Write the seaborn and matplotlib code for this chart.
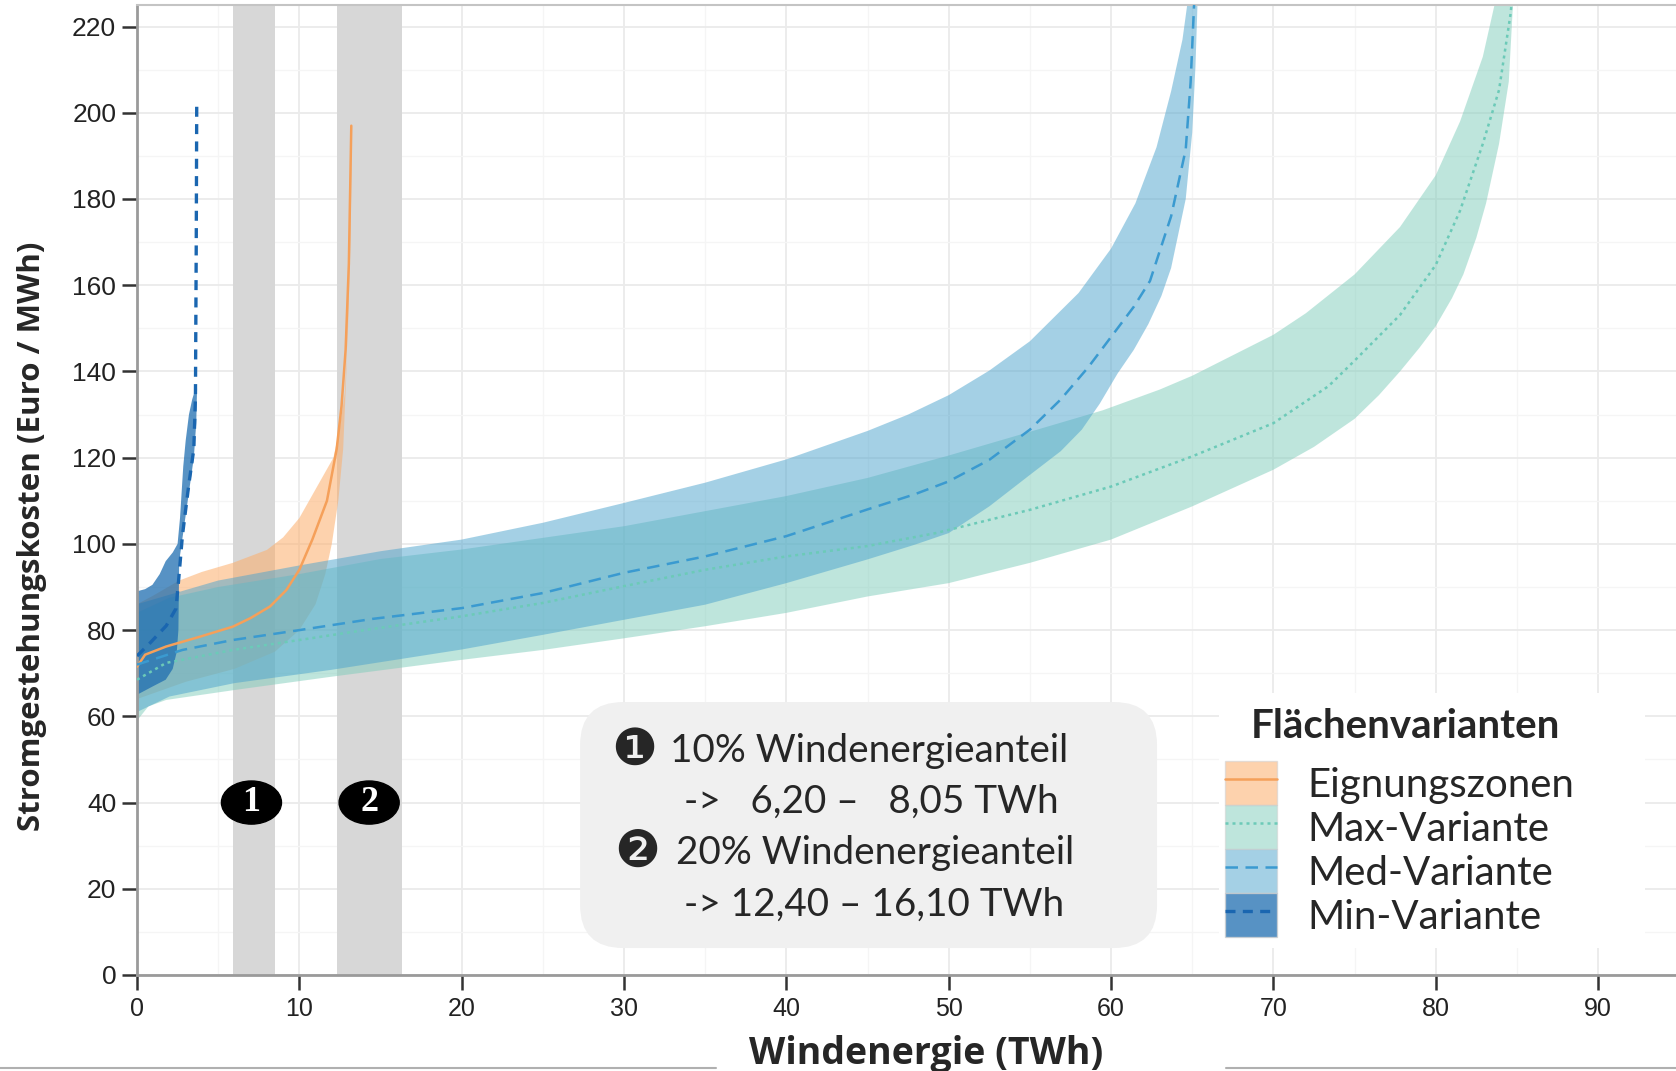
import numpy as np
import matplotlib
matplotlib.use("Agg")
import matplotlib.pyplot as plt
import seaborn as sns
from matplotlib.patches import Patch, Ellipse, FancyBboxPatch, Rectangle
from matplotlib.lines import Line2D

# --- data ------------------------------------------------------------------
# Eignungszonen (orange)
ez_up_x = [0, 1, 2.6, 4, 5.9, 8, 9, 10, 11.2, 12.1, 12.5, 12.8, 13.0, 13.15, 13.25]
ez_up_y = [86, 88, 91.5, 93.5, 95.6, 98.6, 101.5, 106, 114, 120, 127, 135, 150, 170, 197]
ez_lo_x = [0, 3, 6, 8.5, 10, 11, 11.6, 12.0, 12.4, 12.7, 12.9, 13.05, 13.25]
ez_lo_y = [64, 68, 71, 75, 80, 86, 93, 100, 110, 122, 140, 165, 197]
ez_mid_x = [0, 0.5, 1.8, 3.9, 5.9, 7.0, 8.2, 9.2, 10.0, 10.8, 11.7, 12.3, 12.6, 12.85, 13.05, 13.2]
ez_mid_y = [71.5, 74.3, 76.2, 78.5, 80.8, 82.8, 85.5, 89.3, 94, 101, 110, 122, 132, 145, 165, 197]

# Max-Variante (teal)
mx_up_x = [0, 2, 5, 10, 15, 20, 25, 30, 35, 40, 45, 50, 55, 59.5, 63, 65, 67, 70, 72, 75, 77.8, 80, 81.5, 82.9, 83.8]
mx_up_y = [84, 87.5, 90, 93, 96.5, 98.7, 101.4, 104.1, 107.6, 111.1, 115.3, 120.5, 126, 131, 135.8, 139, 142.8, 148.5, 153.5, 162.5, 173.5, 185.5, 198, 213, 228]
mx_lo_x = [0, 0.7, 1.8, 6, 12, 20, 25, 30, 35, 40, 45, 50, 55, 60, 65, 70, 72.5, 75, 76.5, 77.8, 79, 80, 81, 81.7, 82.5, 83.1, 83.9, 84.5, 84.8]
mx_lo_y = [59, 62.3, 63.8, 66.1, 69.2, 73.1, 75.4, 78.1, 80.9, 84, 87.8, 90.9, 95.6, 101, 108.7, 117.2, 122.5, 129, 134.5, 140, 145.5, 150.5, 157, 162.5, 171, 179, 192.8, 207.2, 228]
mx_mid_x = [0, 1.8, 5.9, 10, 14, 20, 25, 30, 35, 40, 45, 49.2, 55, 60, 65, 70, 73.4, 75, 77.8, 80, 81.5, 82.9, 83.9, 84.6, 84.75]
mx_mid_y = [68.5, 72.4, 75.4, 77.7, 80, 83.2, 86.3, 90.2, 94, 97.1, 99.5, 102.5, 107.9, 113.3, 120.3, 128, 136.6, 142.5, 153.1, 164.7, 177.3, 192.8, 205.3, 222.7, 228]

# Med-Variante (blue)
md_up_x = [0, 5, 10, 15, 20, 25, 30, 35, 40, 45, 47.5, 50, 52.5, 55, 58, 60, 61.5, 62.8, 63.7, 64.4, 64.8]
md_up_y = [86, 91.5, 95, 98.3, 101, 104.9, 109.5, 114.2, 119.6, 126.2, 130, 134.5, 140.2, 147, 158.2, 168.5, 179, 192, 205, 217, 228]
md_lo_x = [0, 2, 6, 12, 20, 25, 30, 35, 40, 45, 47.9, 50, 52.5, 55, 56.9, 58.2, 59.3, 60.4, 61.4, 62.3, 63.1, 63.7, 64.6, 65.0, 65.2, 65.35]
md_lo_y = [61, 64.6, 67.7, 70.8, 75.5, 78.9, 82.4, 85.9, 90.9, 96.4, 99.8, 102.5, 108.7, 116, 121.5, 126.5, 132.5, 139.5, 145, 151, 157.5, 164, 180, 195.4, 210.8, 228]
md_mid_x = [0, 2.8, 5.9, 10, 14.5, 20, 25, 30, 35, 40, 45, 47.9, 50, 52.5, 55, 56.9, 58.6, 60.2, 61.4, 62.4, 63.7, 64.6, 64.9, 65.15]
md_mid_y = [72, 75.4, 77.7, 80, 82.6, 85.1, 88.6, 93.3, 97.1, 101.8, 108, 111.5, 114.5, 119.5, 126.5, 133.5, 141, 149, 155, 161, 176, 191.5, 207, 228]

# Min-Variante (dark blue)
mn_up_x = [0, 0.5, 0.95, 1.4, 1.77, 2.2, 2.5, 2.65, 2.75, 2.85, 3.0, 3.2, 3.4, 3.6]
mn_up_y = [89, 89.5, 90.5, 93, 96, 98, 100, 106, 112, 118, 124, 130, 133.5, 136]
mn_lo_x = [0, 0.5, 1.0, 1.77, 2.2, 2.45, 2.55, 2.6, 2.9, 3.2, 3.5, 3.65, 3.7]
mn_lo_y = [65, 66, 67, 68.5, 71, 75, 80, 96, 104, 112, 120, 128, 136]
mn_mid_x = [0, 0.8, 1.8, 2.4, 2.55, 2.8, 3.2, 3.5, 3.6, 3.65, 3.68]
mn_mid_y = [74, 77, 81, 85, 91, 102, 114, 122, 134, 170, 203]

labels = ["Eignungszonen", "Max-Variante", "Med-Variante", "Min-Variante"]
shade_bands = [(5.9, 8.5), (12.3, 16.3)]
badge_x = [7.05, 14.3]
badge_text = ["1", "2"]
badge_y = 40

# --- styling ---------------------------------------------------------------
sns.set_theme(style="whitegrid")
plt.rcParams["font.family"] = ["Lato", "DejaVu Sans"]

fill_cols = ["#fdae6b", "#7fcdbb", "#4ba3cd", "#1f6eb0"]
fill_alpha = [0.55, 0.5, 0.5, 0.75]
line_cols = ["#f5a05a", "#6ccab8", "#3a9ad0", "#1a66b0"]
line_styles = ["-", (0, (1.2, 1.6)), (0, (5, 3)), (0, (3, 2.2))]
line_widths = [1.8, 1.8, 1.8, 2.4]

fig = plt.figure(figsize=(16.76, 10.71), dpi=100)
ax = fig.add_axes([137 / 1676, 96 / 1071, 1539 / 1676, 970 / 1071])
ax.set_facecolor("white")

# grey highlight bands
for lo, hi in shade_bands:
    ax.axvspan(lo, hi, color="#d7d7d7", lw=0, zorder=1)

bands = [(ez_up_x, ez_up_y, ez_lo_x, ez_lo_y),
         (mx_up_x, mx_up_y, mx_lo_x, mx_lo_y),
         (md_up_x, md_up_y, md_lo_x, md_lo_y),
         (mn_up_x, mn_up_y, mn_lo_x, mn_lo_y)]
for (ux, uy, lx, ly), c, a in zip(bands, fill_cols, fill_alpha):
    ax.fill(np.r_[ux, lx[::-1]], np.r_[uy, ly[::-1]], color=c, alpha=a, lw=0, zorder=2)

mids = [(ez_mid_x, ez_mid_y), (mx_mid_x, mx_mid_y), (md_mid_x, md_mid_y), (mn_mid_x, mn_mid_y)]
for (mxs, mys), c, ls, lw in zip(mids, line_cols, line_styles, line_widths):
    sns.lineplot(x=mxs, y=mys, ax=ax, color=c, linestyle=ls, lw=lw,
                 sort=False, estimator=None, zorder=3)

# numbered badges
for bx, t in zip(badge_x, badge_text):
    ax.add_patch(Ellipse((bx, badge_y), 3.7, 10, color="black", zorder=6))
    ax.text(bx, badge_y, t, color="white", ha="center", va="center", fontsize=26,
            fontweight="bold", family="Liberation Serif", zorder=7)

# axes, ticks, grid
ax.set_xlim(0, 94.8)
ax.set_ylim(0, 225)
ax.set_xticks(np.arange(0, 91, 10))
ax.set_yticks(np.arange(0, 221, 20))
ax.set_xticks(np.arange(5, 95, 10), minor=True)
ax.set_yticks(np.arange(10, 225, 20), minor=True)
ax.grid(which="major", color="#ebebeb", lw=1.3)
ax.grid(which="minor", color="#f5f5f5", lw=0.9)
ax.set_axisbelow(True)
ax.tick_params(axis="both", which="major", direction="out", length=11, width=1.8,
               color="#333333", labelcolor="#222222", left=True, bottom=True)
ax.tick_params(axis="y", labelsize=19, pad=4)
ax.tick_params(axis="x", labelsize=18, pad=5)
ax.tick_params(which="minor", length=0)
for lab in ax.get_xticklabels() + ax.get_yticklabels():
    lab.set_fontfamily("Liberation Sans")
for side in ["left", "bottom"]:
    ax.spines[side].set_color("#9a9a9a")
    ax.spines[side].set_linewidth(2)
ax.spines["top"].set_color("#c4c4c4")
ax.spines["top"].set_linewidth(1.5)
ax.spines["right"].set_visible(False)

ax.set_xlabel("Windenergie (TWh)", fontsize=27, fontweight="bold", family="Open Sans", va="center")
ax.set_ylabel("Stromgestehungskosten (Euro / MWh)", fontsize=22.5, fontweight="bold",
              family="Open Sans", va="center")
ax.xaxis.set_label_coords(0.513, -0.081)
ax.yaxis.set_label_coords(-0.068, 0.4526)

# info box
ax.add_patch(FancyBboxPatch((0.2879, 0.0278), 0.3749, 0.2536, transform=ax.transAxes,
                            boxstyle="round,pad=0,rounding_size=0.028", mutation_aspect=1539 / 970,
                            fc="#f0f0f0", ec="none", zorder=5))
ax.text(0.3229, 0.2309, "\u2776", transform=ax.transAxes, ha="center", va="center",
        fontsize=37, family="DejaVu Sans", zorder=6)
ax.text(0.3249, 0.1258, "\u2777", transform=ax.transAxes, ha="center", va="center",
        fontsize=37, family="DejaVu Sans", zorder=6)
ax.text(0.3463, 0.2309, "10% Windenergieanteil", transform=ax.transAxes, ha="left", va="center",
        fontsize=27.8, zorder=6)
ax.text(0.3554, 0.1784, "->   6,20 \u2013   8,05 TWh", transform=ax.transAxes, ha="left", va="center",
        fontsize=27.8, zorder=6)
ax.text(0.3502, 0.1258, "20% Windenergieanteil", transform=ax.transAxes, ha="left", va="center",
        fontsize=27.8, zorder=6)
ax.text(0.3554, 0.0722, "-> 12,40 \u2013 16,10 TWh", transform=ax.transAxes, ha="left", va="center",
        fontsize=27.8, zorder=6)

# legend: white panel, bold title, contiguous key patches
ax.add_patch(Rectangle((0.703, 0.028), 0.277, 0.263, transform=ax.transAxes,
                       fc="white", ec="none", zorder=7))
ax.text(0.7239, 0.2557, "Flächenvarianten", transform=ax.transAxes, ha="left", va="center",
        fontsize=29, fontweight="bold", zorder=8)
handles = [(Patch(fc=c, alpha=a, ec="#cfcfcf", lw=1),
            Line2D([], [], color=lc, ls=ls, lw=lw))
           for c, a, lc, ls, lw in zip(fill_cols, fill_alpha, line_cols, line_styles, line_widths)]
leg = ax.legend(handles, labels, loc="center left", bbox_to_anchor=(0.6805, 0.1296),
                frameon=False, fontsize=29,
                handlelength=1.3, handleheight=1.3, labelspacing=0, handletextpad=0.75,
                borderpad=0.5)
leg.set_zorder(8)

# screenshot border line at the bottom
fig.add_artist(Line2D([0, 716 / 1676], [0.003, 0.003], color="#b0b0b0", lw=1.5))
fig.add_artist(Line2D([1226 / 1676, 1], [0.003, 0.003], color="#b0b0b0", lw=1.5))

fig.savefig("out.png", dpi=100, facecolor="white")
